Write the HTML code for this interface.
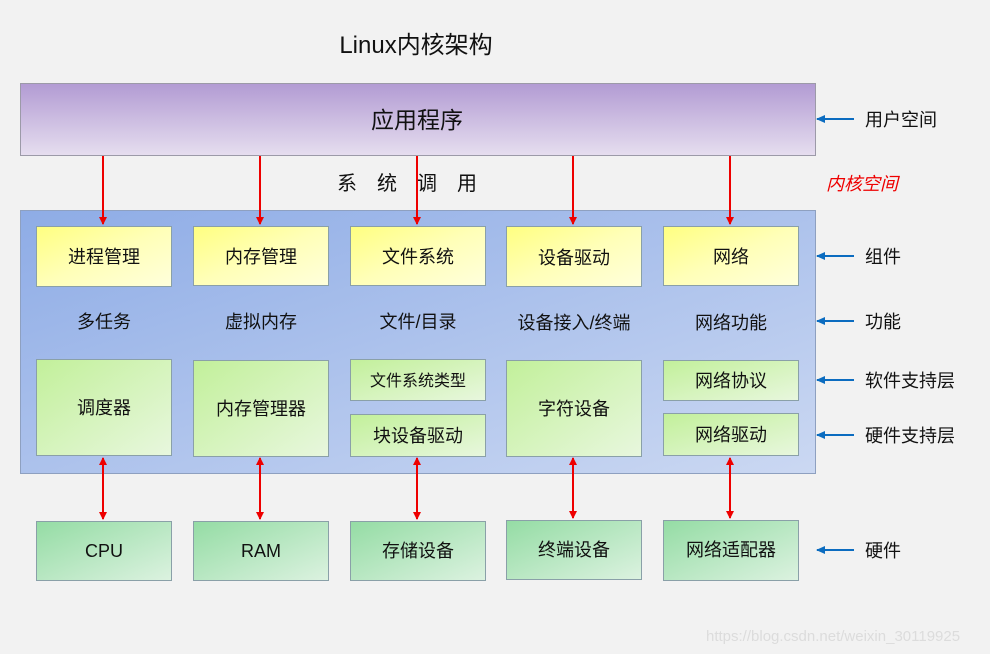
<!DOCTYPE html>
<html><head><meta charset="utf-8"><style>
html,body{margin:0;width:990px;height:654px;overflow:hidden;background:#f2f2f2}
svg{display:block}
svg text{font-family:"Liberation Sans","Microsoft YaHei","Noto Sans CJK SC",sans-serif;fill:#111}
</style></head><body>
<svg width="990" height="654" viewBox="0 0 990 654" xmlns="http://www.w3.org/2000/svg">
<defs>
<linearGradient id="app" x1="0" y1="0" x2="0" y2="1"><stop offset="0" stop-color="#b29bd3"/><stop offset="1" stop-color="#e6deef"/></linearGradient>
<linearGradient id="ker" x1="0" y1="0" x2="1" y2="1"><stop offset="0" stop-color="#8eace6"/><stop offset="1" stop-color="#cbd8f2"/></linearGradient>
<linearGradient id="yel" x1="0" y1="0" x2="1" y2="1"><stop offset="0" stop-color="#ffff80"/><stop offset="0.5" stop-color="#ffffb8"/><stop offset="1" stop-color="#ffffdc"/></linearGradient>
<linearGradient id="grn" x1="0" y1="0" x2="1" y2="1"><stop offset="0" stop-color="#c2f09a"/><stop offset="1" stop-color="#e8f7de"/></linearGradient>
<linearGradient id="hw" x1="0" y1="0" x2="1" y2="1"><stop offset="0" stop-color="#94dca4"/><stop offset="1" stop-color="#dcf2e0"/></linearGradient>
<marker id="ar" markerWidth="8" markerHeight="8" refX="7" refY="4" orient="auto" markerUnits="userSpaceOnUse"><path d="M0,0 L8,4 L0,8 z" fill="#e00"/></marker>
<marker id="ars" markerWidth="8" markerHeight="8" refX="7" refY="4" orient="auto-start-reverse" markerUnits="userSpaceOnUse"><path d="M0,0 L8,4 L0,8 z" fill="#e00"/></marker>
<marker id="ab" markerWidth="9" markerHeight="8" refX="8" refY="4" orient="auto" markerUnits="userSpaceOnUse"><path d="M0,0 L9,4 L0,8 z" fill="#0b6cc0"/></marker>
</defs>
<text x="416" y="53" font-size="24" text-anchor="middle">Linux内核架构</text>
<rect x="20.5" y="83.5" width="795" height="72" fill="url(#app)" stroke="#9c9aa8"/>
<text x="417" y="128" font-size="23" text-anchor="middle">应用程序</text>
<text x="417" y="190" font-size="20" text-anchor="middle" letter-spacing="20">系统调用</text>
<text x="826" y="190" font-size="18" style="fill:#e00;font-style:italic">内核空间</text>
<rect x="20.5" y="210.5" width="795" height="263" fill="url(#ker)" stroke="#8ea0c0"/>
<g stroke="#8aa0a8" stroke-width="1">
<rect x="36.5" y="226.5" width="135" height="60" fill="url(#yel)"/>
<rect x="193.5" y="226.5" width="135" height="59" fill="url(#yel)"/>
<rect x="350.5" y="226.5" width="135" height="59" fill="url(#yel)"/>
<rect x="506.5" y="226.5" width="135" height="60" fill="url(#yel)"/>
<rect x="663.5" y="226.5" width="135" height="59" fill="url(#yel)"/>
<rect x="36.5" y="359.5" width="135" height="96" fill="url(#grn)"/>
<rect x="193.5" y="360.5" width="135" height="96" fill="url(#grn)"/>
<rect x="350.5" y="359.5" width="135" height="41" fill="url(#grn)"/>
<rect x="350.5" y="414.5" width="135" height="42" fill="url(#grn)"/>
<rect x="506.5" y="360.5" width="135" height="96" fill="url(#grn)"/>
<rect x="663.5" y="360.5" width="135" height="40" fill="url(#grn)"/>
<rect x="663.5" y="413.5" width="135" height="42" fill="url(#grn)"/>
<rect x="36.5" y="521.5" width="135" height="59" fill="url(#hw)"/>
<rect x="193.5" y="521.5" width="135" height="59" fill="url(#hw)"/>
<rect x="350.5" y="521.5" width="135" height="59" fill="url(#hw)"/>
<rect x="506.5" y="520.5" width="135" height="59" fill="url(#hw)"/>
<rect x="663.5" y="520.5" width="135" height="60" fill="url(#hw)"/>
</g>
<g font-size="18" text-anchor="middle">
<text x="104" y="263">进程管理</text><text x="261" y="263">内存管理</text><text x="418" y="263">文件系统</text><text x="574" y="264">设备驱动</text><text x="731" y="263">网络</text>
<text x="104" y="328">多任务</text><text x="261" y="328">虚拟内存</text><text x="418" y="328">文件/目录</text><text x="574" y="329">设备接入/终端</text><text x="731" y="329">网络功能</text>
<text x="104" y="414">调度器</text><text x="261" y="415">内存管理器</text><text x="418" y="386" font-size="16">文件系统类型</text><text x="418" y="442">块设备驱动</text><text x="574" y="415">字符设备</text><text x="731" y="387">网络协议</text><text x="731" y="441">网络驱动</text>
<text x="104" y="557">CPU</text><text x="261" y="557">RAM</text><text x="418" y="557">存储设备</text><text x="574" y="556">终端设备</text><text x="731" y="556">网络适配器</text>
</g>
<g stroke="#e00" stroke-width="2">
<line x1="103" y1="156" x2="103" y2="224" marker-end="url(#ar)"/>
<line x1="260" y1="156" x2="260" y2="224" marker-end="url(#ar)"/>
<line x1="417" y1="156" x2="417" y2="224" marker-end="url(#ar)"/>
<line x1="573" y1="156" x2="573" y2="224" marker-end="url(#ar)"/>
<line x1="730" y1="156" x2="730" y2="224" marker-end="url(#ar)"/>
<line x1="103" y1="458" x2="103" y2="519" marker-start="url(#ars)" marker-end="url(#ar)"/>
<line x1="260" y1="458" x2="260" y2="519" marker-start="url(#ars)" marker-end="url(#ar)"/>
<line x1="417" y1="458" x2="417" y2="519" marker-start="url(#ars)" marker-end="url(#ar)"/>
<line x1="573" y1="458" x2="573" y2="518" marker-start="url(#ars)" marker-end="url(#ar)"/>
<line x1="730" y1="458" x2="730" y2="518" marker-start="url(#ars)" marker-end="url(#ar)"/>
</g>
<g stroke="#0b6cc0" stroke-width="2">
<line x1="854" y1="119" x2="817" y2="119" marker-end="url(#ab)"/>
<line x1="854" y1="256" x2="817" y2="256" marker-end="url(#ab)"/>
<line x1="854" y1="321" x2="817" y2="321" marker-end="url(#ab)"/>
<line x1="854" y1="380" x2="817" y2="380" marker-end="url(#ab)"/>
<line x1="854" y1="435" x2="817" y2="435" marker-end="url(#ab)"/>
<line x1="854" y1="550" x2="817" y2="550" marker-end="url(#ab)"/>
</g>
<g font-size="18">
<text x="865" y="126">用户空间</text><text x="865" y="263">组件</text><text x="865" y="328">功能</text><text x="865" y="387">软件支持层</text><text x="865" y="442">硬件支持层</text><text x="865" y="557">硬件</text>
</g>
<text x="706" y="641" font-size="15" style="fill:#dcdcdc">https://blog.csdn.net/weixin_30119925</text>
</svg>
</body></html>
